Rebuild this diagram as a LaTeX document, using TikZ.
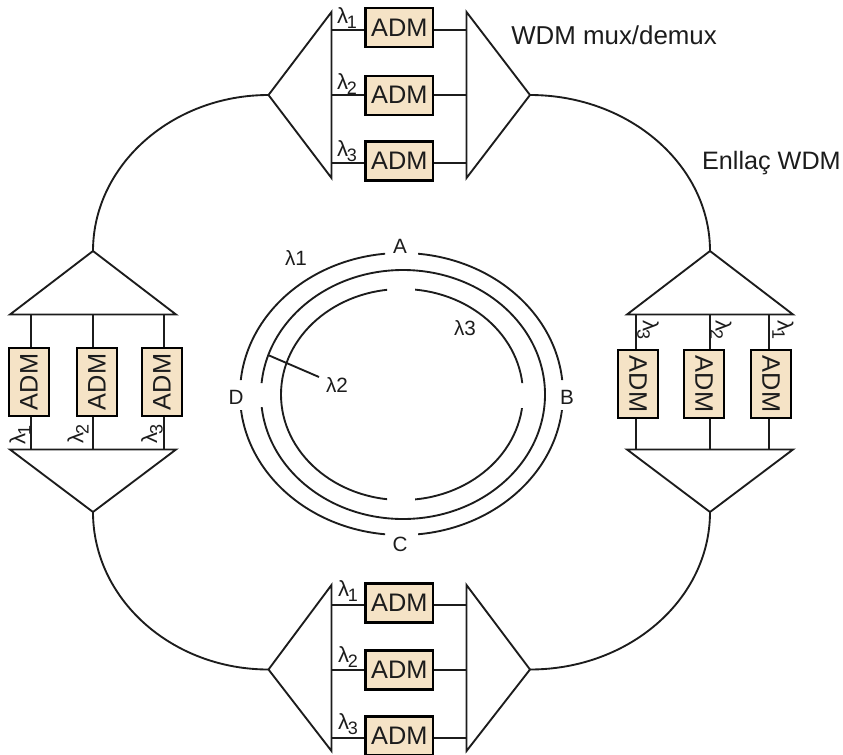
\documentclass[tikz,border=0pt]{standalone}
\usepackage{fontspec}
\setmainfont{Liberation Sans}
\definecolor{admfill}{HTML}{F5E3C6}
\definecolor{inkc}{HTML}{1C1C1C}
\newcommand{\lamsub}[1]{\fontsize{16.5}{18}\selectfont λ\kern-0.8pt\raisebox{-4pt}{\fontsize{13.5}{15}\selectfont #1}}
\tikzset{
  wire/.style={line width=1.4pt,draw=inkc,line join=miter},
  admbox/.style={draw=black,line width=1.6pt,fill=admfill,inner sep=0pt,text=inkc,font=\fontsize{19}{21}\selectfont},
  admh/.style={admbox,minimum width=67.5*0.75pt,minimum height=39*0.75pt},
  admv/.style={admbox,minimum width=68*0.75pt,minimum height=40*0.75pt},
  lam/.style={inner sep=0pt,text=inkc},
  ringlab/.style={inner sep=0pt,text=inkc,font=\fontsize{15.5}{17}\selectfont},
  biglab/.style={inner sep=0pt,text=inkc,font=\fontsize{19.4}{21}\selectfont,anchor=west},
  biglabb/.style={inner sep=0pt,text=inkc,font=\fontsize{18.9}{21}\selectfont,anchor=east},
}
\begin{document}
\begin{tikzpicture}[x=0.75pt,y=-0.75pt]
\useasboundingbox (0,0) rectangle (843,754);
% --- multiplexer corner points
\coordinate (tLa) at (268.5,95);  \coordinate (tLu) at (331.5,12);  \coordinate (tLd) at (331.5,178);
\coordinate (tRa) at (530,95);    \coordinate (tRu) at (466.5,12);  \coordinate (tRd) at (466.5,178);
\coordinate (bLa) at (268.5,669.5); \coordinate (bLu) at (331.5,585); \coordinate (bLd) at (331.5,751);
\coordinate (bRa) at (530,669.5);   \coordinate (bRu) at (466.5,585); \coordinate (bRd) at (466.5,751);
\coordinate (lTa) at (93,251);  \coordinate (lTl) at (10,314.5); \coordinate (lTr) at (176,314.5);
\coordinate (lBa) at (93,512);  \coordinate (lBl) at (10,449.5); \coordinate (lBr) at (176,449.5);
\coordinate (rTa) at (710,251); \coordinate (rTl) at (627,314.5); \coordinate (rTr) at (793,314.5);
\coordinate (rBa) at (710,512); \coordinate (rBl) at (627,449.5); \coordinate (rBr) at (793,449.5);
% --- triangles
\draw[wire] (tLa) -- (tLu) -- (tLd) -- cycle;
\draw[wire] (tRa) -- (tRu) -- (tRd) -- cycle;
\draw[wire] (bLa) -- (bLu) -- (bLd) -- cycle;
\draw[wire] (bRa) -- (bRu) -- (bRd) -- cycle;
\draw[wire] (lTa) -- (lTl) -- (lTr) -- cycle;
\draw[wire] (lBa) -- (lBl) -- (lBr) -- cycle;
\draw[wire] (rTa) -- (rTl) -- (rTr) -- cycle;
\draw[wire] (rBa) -- (rBl) -- (rBr) -- cycle;
% --- links between stations
\draw[wire] (tLa) .. controls +(-96.6,0) and +(0,-85.6) .. (lTa);
\draw[wire] (tRa) .. controls +(99.4,0) and +(0,-85.6) .. (rTa);
\draw[wire] (bLa) .. controls +(-96.6,0) and +(0,87.2) .. (lBa);
\draw[wire] (bRa) .. controls +(99.4,0) and +(0,87.2) .. (rBa);
% --- ADM boxes
\node[admh] (t1) at (399.25,27.5) {ADM};
\node[admh] (t2) at (399.25,95.2) {ADM};
\node[admh] (t3) at (399.25,161) {ADM};
\node[admh] (b1) at (399.25,603) {ADM};
\node[admh] (b2) at (399.25,670) {ADM};
\node[admh] (b3) at (399.25,736) {ADM};
\node[admv,rotate=90] (l1) at (29,382) {ADM};
\node[admv,rotate=90] (l2) at (97,382) {ADM};
\node[admv,rotate=90] (l3) at (162,382) {ADM};
\node[admv,rotate=-90] (r1) at (638,384) {ADM};
\node[admv,rotate=-90] (r2) at (704,384) {ADM};
\node[admv,rotate=-90] (r3) at (771,384) {ADM};
% --- horizontal tie lines (named anchors on the triangle bases)
\foreach \bx/\yy in {t1/30,t2/95,t3/163,b1/605,b2/670,b3/738}{
  \coordinate (\bx L) at (331.5,\yy);
  \coordinate (\bx R) at (466.5,\yy);
  \draw[wire] (\bx L) -- (\bx L -| \bx.west);
  \draw[wire] (\bx R) -- (\bx R -| \bx.east);
}
\coordinate (l1U) at (31,314.5);  \coordinate (l1D) at (31,449.5);
\coordinate (l2U) at (93,314.5);  \coordinate (l2D) at (93,449.5);
\coordinate (l3U) at (164,314.5); \coordinate (l3D) at (164,449.5);
\coordinate (r1U) at (636,314.5); \coordinate (r1D) at (636,449.5);
\coordinate (r2U) at (710,314.5); \coordinate (r2D) at (710,449.5);
\coordinate (r3U) at (769,314.5); \coordinate (r3D) at (769,449.5);
\draw[wire] (l1U) -- (l1U |- l1.east); \draw[wire] (l1D) -- (l1D |- l1.west);
\draw[wire] (l2U) -- (l2U |- l2.east); \draw[wire] (l2D) -- (l2D |- l2.west);
\draw[wire] (l3U) -- (l3U |- l3.east); \draw[wire] (l3D) -- (l3D |- l3.west);
\draw[wire] (r1U) -- (r1U |- r1.west); \draw[wire] (r1D) -- (r1D |- r1.east);
\draw[wire] (r2U) -- (r2U |- r2.west); \draw[wire] (r2D) -- (r2D |- r2.east);
\draw[wire] (r3U) -- (r3U |- r3.west); \draw[wire] (r3D) -- (r3D |- r3.east);
% --- wavelength labels
\node[lam] (lt1) at (347,18) {\lamsub{1}};
\node[lam] (lt2) at (347,84) {\lamsub{2}};
\node[lam] (lt3) at (347,151) {\lamsub{3}};
\node[lam] (lb1) at (348,591) {\lamsub{1}};
\node[lam] (lb2) at (348,657) {\lamsub{2}};
\node[lam] (lb3) at (348,724) {\lamsub{3}};
\node[lam,rotate=90] (ll1) at (20,435) {\lamsub{1}};
\node[lam,rotate=90] (ll2) at (78,434) {\lamsub{2}};
\node[lam,rotate=90] (ll3) at (152,434) {\lamsub{3}};
\node[lam,rotate=-90] (lr3) at (648,330) {\lamsub{3}};
\node[lam,rotate=-90] (lr2) at (721,330) {\lamsub{2}};
\node[lam,rotate=-90] (lr1) at (783,330) {\lamsub{1}};
% --- central rings, with their gaps
\begin{scope}[even odd rule]
  \clip (0,0) rectangle (843,754)
     (385,245) rectangle (418,262) (385,527) rectangle (418,545)
     (232,380) rectangle (250,410) (555,380) rectangle (572,410);
  \draw[wire] (401.5,394) ellipse [x radius=161.5,y radius=141];
\end{scope}
\begin{scope}[even odd rule]
  \clip (0,0) rectangle (843,754) (252,383) rectangle (270,407);
  \draw[wire] (403,394.5) ellipse [x radius=142,y radius=124.5];
\end{scope}
\begin{scope}[even odd rule]
  \clip (0,0) rectangle (843,754)
     (387,282) rectangle (415,296) (387,493) rectangle (415,507)
     (515,383) rectangle (530,408);
  \draw[wire] (402,394.5) ellipse [x radius=121,y radius=105.5];
\end{scope}
\node[ringlab] (A) at (400,246) {A};
\node[ringlab] (B) at (567,397) {B};
\node[ringlab] (C) at (400,544) {C};
\node[ringlab] (D) at (236,397) {D};
\node[ringlab] (w1) at (296,258) {λ1};
\node[ringlab] (w3) at (465,328) {λ3};
\node[ringlab] (w2) at (337,385) {λ2};
\coordinate (w2end) at (268,355);
\coordinate (w2tip) at (319,377);
\draw[wire] (w2end) -- (w2tip);
% --- captions
\node[biglab] (cap1) at (511,35) {WDM mux/demux};
\node[biglabb] (cap2) at (841,163.5) {Enllaç WDM};
\end{tikzpicture}
\end{document}
